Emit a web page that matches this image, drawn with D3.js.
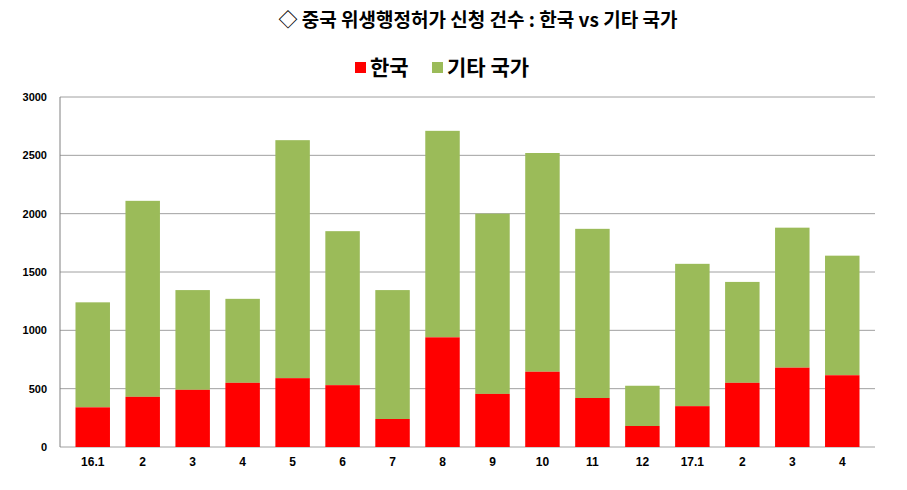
<!DOCTYPE html>
<html><head><meta charset="utf-8">
<script src="https://cdn.jsdelivr.net/npm/d3@7"></script>
<style>body{margin:0;background:#fff;font-family:"Noto Sans CJK KR",sans-serif}</style>
</head><body><svg width="907" height="490"></svg>
<script>
// 월별 건수
var months = ["16.1","2","3","4","5","6","7","8","9","10","11","12","17.1","2","3","4"];
var korea = [340,430,490,550,590,530,240,940,455,645,420,180,350,550,680,615];
var total = [1240,2110,1345,1270,2630,1850,1345,2710,2000,2520,1870,525,1570,1415,1880,1640];
var yTicks = [0,500,1000,1500,2000,2500,3000];

var svg = d3.select("svg");
var plotL = 60, plotR = 875, plotT = 97, plotB = 447;

var x = d3.scaleBand().domain(d3.range(months.length)).range([plotL, plotR]).padding(0.31);
var y = d3.scaleLinear().domain([0, 3000]).range([plotB, plotT]);

svg.append("text").attr("x", 478).attr("y", 27).attr("text-anchor", "middle")
  .attr("font-size", 19).attr("font-weight", "bold")
  .text("◇ 중국 위생행정허가 신청 건수 : 한국 vs 기타 국가");

// legend
var lg = svg.append("g").attr("font-size", 21).attr("font-weight", "bold");
lg.append("rect").attr("x", 355).attr("y", 62).attr("width", 11).attr("height", 11).attr("fill", "#ff0000");
lg.append("text").attr("x", 370).attr("y", 75).text("한국");
lg.append("rect").attr("x", 432).attr("y", 62).attr("width", 11).attr("height", 11).attr("fill", "#9bbb59");
lg.append("text").attr("x", 447).attr("y", 75).text("기타 국가");

svg.append("g").selectAll("line").data(yTicks).enter().append("line")
  .attr("x1", plotL).attr("x2", plotR)
  .attr("y1", function(d){ return y(d); }).attr("y2", function(d){ return y(d); })
  .attr("stroke", "#a0a0a0").attr("stroke-width", 1);
svg.append("line").attr("x1", plotL).attr("x2", plotL).attr("y1", plotT).attr("y2", plotB).attr("stroke", "#808080");

svg.append("g").selectAll("text").data(yTicks).enter().append("text")
  .attr("x", plotL - 13).attr("y", function(d){ return y(d) + 4; })
  .attr("text-anchor", "end").attr("font-size", 11).attr("font-weight", "bold")
  .attr("font-family", "Arial, Liberation Sans, sans-serif")
  .text(function(d){ return d; });

svg.append("g").selectAll("rect").data(total).enter().append("rect")
  .attr("x", function(d, i){ return x(i); }).attr("width", x.bandwidth())
  .attr("y", function(d){ return y(d); })
  .attr("height", function(d, i){ return y(korea[i]) - y(d); })
  .attr("fill", "#9bbb59");
svg.append("g").selectAll("rect").data(korea).enter().append("rect")
  .attr("x", function(d, i){ return x(i); }).attr("width", x.bandwidth())
  .attr("y", function(d){ return y(d); })
  .attr("height", function(d){ return plotB - y(d); })
  .attr("fill", "#ff0000");

svg.append("g").selectAll("text").data(months).enter().append("text")
  .attr("x", function(d, i){ return x(i) + x.bandwidth() / 2; }).attr("y", plotB + 19)
  .attr("text-anchor", "middle").attr("font-size", 12).attr("font-weight", "bold")
  .attr("font-family", "Arial, Liberation Sans, sans-serif")
  .text(function(d){ return d; });
</script></body></html>
